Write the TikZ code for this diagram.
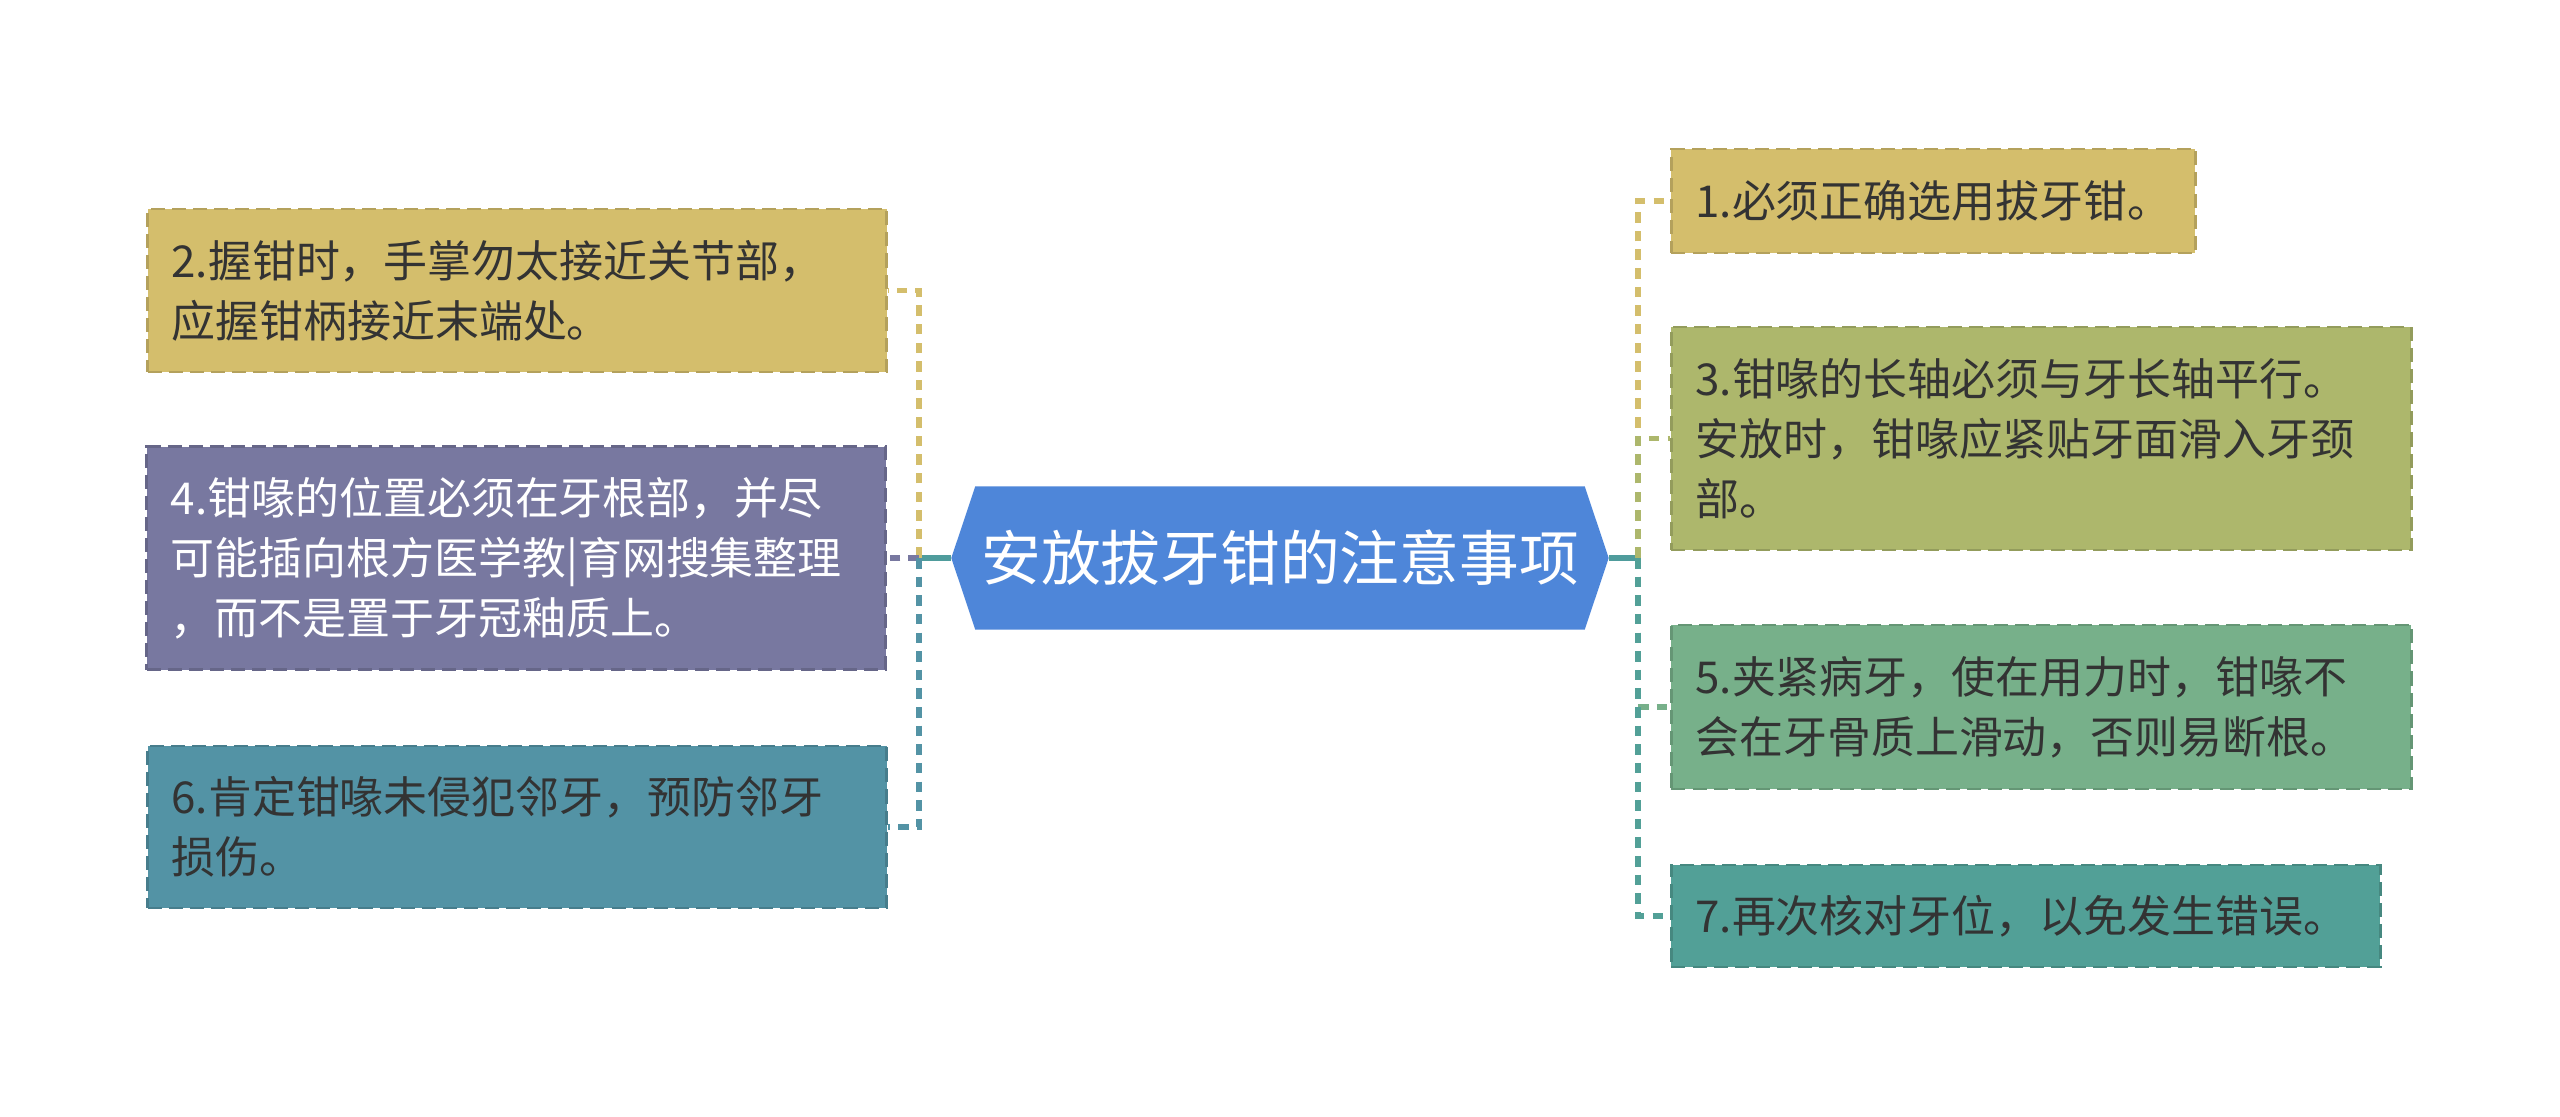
\documentclass[tikz,border=0pt]{standalone}
\usepackage{fontspec}
\usepackage{xcolor}
\usepackage{tikz}
\usetikzlibrary{positioning, backgrounds}
\newfontfamily\cjk{Noto Sans CJK SC}
\definecolor{rootblue}{HTML}{4E86D9}
\definecolor{rootline}{HTML}{4F9C9C}
\definecolor{sand}{HTML}{D4BE6C}
\definecolor{olive}{HTML}{ADB76C}
\definecolor{lilac}{HTML}{7878A0}
\definecolor{sage}{HTML}{77B08A}
\definecolor{petrol}{HTML}{5393A5}
\definecolor{jade}{HTML}{52A097}
\definecolor{textgray}{HTML}{333333}
\tikzstyle{rootbox} = [rectangle, minimum width=6.56cm, minimum height=1.42cm, text=white, font=\cjk\fontsize{17pt}{20pt}\selectfont]
\tikzstyle{leaf} = [rectangle, dash pattern=on 4pt off 2pt, line width=0.8pt, inner xsep=0.24cm, inner ysep=0pt, align=left, text=textgray, font=\cjk\fontsize{12.5pt}{17pt}\selectfont]
\tikzstyle{link} = [line width=1.6pt, dash pattern=on 3pt off 2.3pt]
\tikzstyle{trunk} = [line width=1.6pt, draw=rootline]

\begin{document}
\begin{tikzpicture}
\useasboundingbox (0,0) rectangle (25.6,11.16);
% centre
\node (root) [rootbox] at (12.8,5.58) {安放拔牙钳的注意事项};
\begin{scope}[on background layer]
\fill[rootblue] (root.west) -- ([xshift=0.24cm]root.north west) -- ([xshift=-0.24cm]root.north east) -- (root.east) -- ([xshift=-0.24cm]root.south east) -- ([xshift=0.24cm]root.south west) -- cycle;
\end{scope}

% left side
\node (n4) [leaf, fill=lilac, draw=lilac!85!black, text=white, text width=6.91cm, minimum height=2.23cm, left=0.64cm of root] {4.钳喙的位置必须在牙根部，并尽\\可能插向根方医学教|育网搜集整理\\，而不是置于牙冠釉质上。};
\node (n2) [leaf, fill=sand, draw=sand!85!black, text width=6.91cm, minimum height=1.63cm, anchor=east] at (8.88,8.255) {2.握钳时，手掌勿太接近关节部，\\应握钳柄接近末端处。};
\node (n6) [leaf, fill=petrol, draw=petrol!85!black, text width=6.91cm, minimum height=1.62cm, anchor=east] at (8.88,2.89) {6.肯定钳喙未侵犯邻牙，预防邻牙\\损伤。};

% right side
\node (n1) [leaf, fill=sand, draw=sand!85!black, minimum height=1.04cm, anchor=west] at (16.7,9.15) {1.必须正确选用拔牙钳。};
\node (n3) [leaf, fill=olive, draw=olive!85!black, text width=6.92cm, minimum height=2.23cm, anchor=west] at (16.7,6.775) {3.钳喙的长轴必须与牙长轴平行。\\安放时，钳喙应紧贴牙面滑入牙颈\\部。};
\node (n5) [leaf, fill=sage, draw=sage!85!black, text width=6.92cm, minimum height=1.64cm, anchor=west] at (16.7,4.09) {5.夹紧病牙，使在用力时，钳喙不\\会在牙骨质上滑动，否则易断根。};
\node (n7) [leaf, fill=jade, draw=jade!85!black, text width=6.61cm, minimum height=1.02cm, anchor=west] at (16.7,2.0) {7.再次核对牙位，以免发生错误。};

\coordinate (ltrunk) at (9.19,5.58);
\coordinate (rtrunk) at (16.38,5.58);

\draw [trunk] (root.west) -- (ltrunk);
\draw [trunk] (root.east) -- (rtrunk);

\draw [link, draw=sand] (ltrunk) |- (n2.east);
\draw [link, draw=lilac] (ltrunk) -- (n4.east);
\draw [link, draw=petrol] (ltrunk) |- (n6.east);

\draw [link, draw=sand] (rtrunk) |- (n1.west);
\draw [link, draw=olive] (rtrunk) |- (n3.west);
\draw [link, draw=sage] (rtrunk) |- (n5.west);
\draw [link, draw=jade] (rtrunk) |- (n7.west);
\end{tikzpicture}
\end{document}
